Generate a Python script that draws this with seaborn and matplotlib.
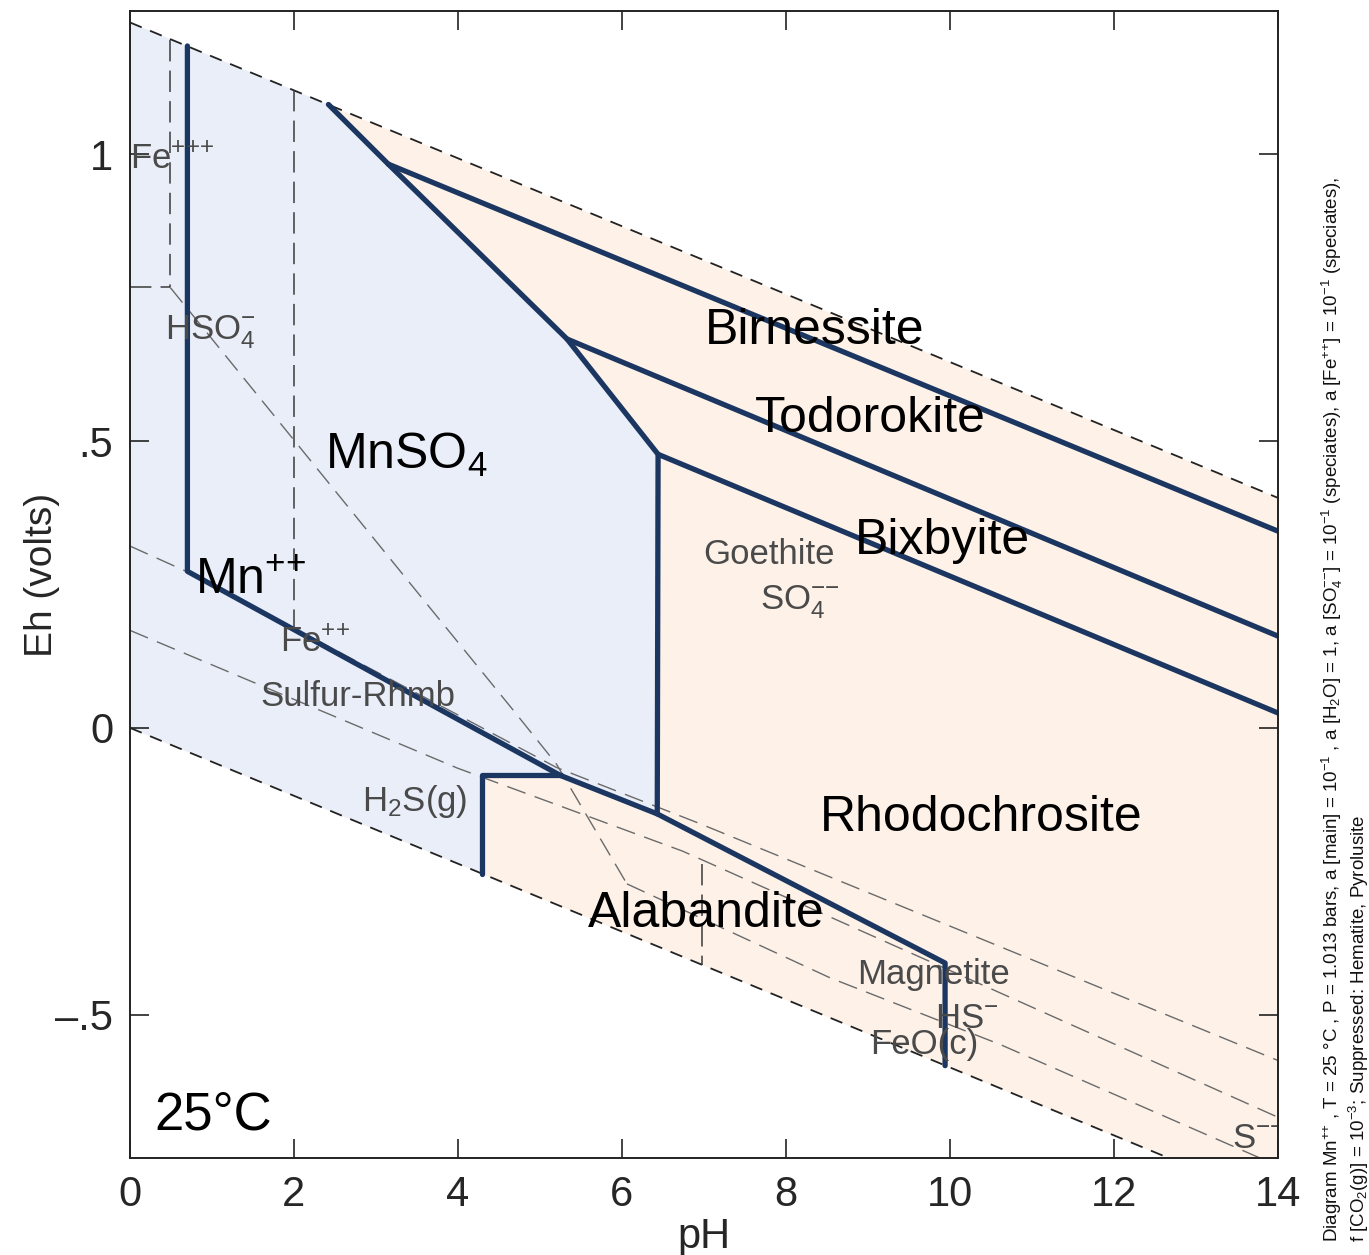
import numpy as np
import pandas as pd
import matplotlib
matplotlib.use("Agg")
import matplotlib.pyplot as plt
from matplotlib.ticker import FixedLocator, FixedFormatter
import seaborn as sns

# water stability limits
ph_water = [0, 14]
eh_water_top = [1.23, 0.401]
eh_water_bottom = [0.0, -0.829]

# Mn field boundaries (pH, Eh)
mn_left_ph = [0.70, 0.70, 5.25, 6.43, 9.94, 9.94]
mn_left_eh = [1.189, 0.273, -0.083, -0.150, -0.410, -0.589]
h2s_ph = [4.29, 4.29, 5.25]
h2s_eh = [-0.254, -0.082, -0.082]
oxide_ph = [2.42, 3.15, 5.33, 6.44, 6.43]
oxide_eh = [1.087, 0.983, 0.678, 0.477, -0.150]
birn_ph, birn_eh = [3.15, 14], [0.983, 0.343]
todo_ph, todo_eh = [5.33, 14], [0.678, 0.160]
bixb_ph, bixb_eh = [6.44, 14], [0.477, 0.026]

# MnSO4 / Mn++ field outline
blue_ph = [0, 2.42, 3.15, 5.33, 6.44, 6.43, 5.25, 4.29, 4.29, 0]
blue_eh = [1.23, 1.087, 0.983, 0.678, 0.477, -0.150, -0.083, -0.082, -0.254, 0.0]

# Fe and S background boundaries (dashed)
fe3_v_ph, fe3_v_eh = [0.49, 0.49], [1.20, 0.768]
fe3_h_ph, fe3_h_eh = [0.0, 0.49], [0.768, 0.768]
hso4_ph, hso4_eh = [2.0, 2.0], [1.112, 0.176]
fe2_ph = [0.49, 3.66, 4.65, 5.20, 6.06]
fe2_eh = [0.768, 0.209, 0.035, -0.063, -0.272]
sA_ph = [0.0, 0.70, 3.98, 5.20, 6.95, 14.0]
sA_eh = [0.317, 0.272, 0.024, -0.069, -0.167, -0.580]
sB_ph = [0.0, 3.99, 6.74, 10.61, 14.0]
sB_eh = [0.170, -0.070, -0.215, -0.462, -0.679]
sC_ph = [6.06, 8.54, 10.61, 13.78]
sC_eh = [-0.272, -0.436, -0.552, -0.750]
hs_ph, hs_eh = [6.97, 6.97], [-0.237, -0.413]

big_labels = ["Birnessite", "Todorokite", "Bixbyite", "MnSO$_4$", "Mn$^{{+}{+}}$",
              "Rhodochrosite", "Alabandite"]
big_ph = [7.01, 7.62, 8.84, 2.38, 0.79, 8.41, 5.585]
big_eh = [0.669, 0.516, 0.303, 0.451, 0.233, -0.179, -0.347]

gray_labels = ["Fe$^{{+}{+}{+}}$", "HSO$_4^{-}$", "Fe$^{{+}{+}}$", "Sulfur-Rhmb", "H$_2$S(g)",
               "Goethite", "SO$_4^{{-}{-}}$", "Magnetite", "HS$^{-}$", "FeO(c)",
               "S$^{{-}{-}}$"]
gray_ph = [0.0, 0.43, 1.83, 1.585, 2.83, 6.99, 7.68, 8.87, 9.82, 9.02, 13.44]
gray_eh = [0.974, 0.678, 0.132, 0.038, -0.145, 0.286, 0.207, -0.446, -0.524, -0.568, -0.733]

x_ticks = [0, 2, 4, 6, 8, 10, 12, 14]
y_ticks = [-0.5, 0, 0.5, 1]
y_ticklabels = ["\u2013.5", "0", ".5", "1"]

sns.set_theme(style="ticks")
plt.rcParams["font.family"] = ["Liberation Sans", "DejaVu Sans"]
plt.rcParams["mathtext.fontset"] = "custom"
plt.rcParams["mathtext.rm"] = "Liberation Sans"
plt.rcParams["mathtext.it"] = "Liberation Sans:italic"
plt.rcParams["mathtext.bf"] = "Liberation Sans:bold"
plt.rcParams["mathtext.default"] = "rm"

fig = plt.figure(figsize=(13.69, 12.55), dpi=100)
ax = fig.add_axes([130 / 1369, 1 - 1158 / 1255, 1148 / 1369, 1147 / 1255])

# field fills
ax.fill_between(ph_water, eh_water_bottom, eh_water_top, color="#fdf1e8", lw=0, zorder=0)
ax.fill(blue_ph, blue_eh, color="#e9eef9", lw=0, zorder=0.5)


def draw(ph, eh, **kw):
    sns.lineplot(x=ph, y=eh, sort=False, estimator=None, ax=ax, **kw)


# water lines
draw(ph_water, eh_water_top, color="#222222", lw=1.3, linestyle=(0, (7, 5)), zorder=2)
draw(ph_water, eh_water_bottom, color="#222222", lw=1.3, linestyle=(0, (7, 5)), zorder=2)

# Fe / S lines
fe_kw = dict(color="#3a3a3a", lw=1.1, linestyle=(0, (14, 6)), zorder=2)
gr_kw = dict(color="#6a6a6a", lw=1.0, linestyle=(0, (14, 7)), zorder=2)
draw(fe3_v_ph, fe3_v_eh, **fe_kw)
draw(fe3_h_ph, fe3_h_eh, **fe_kw)
draw(hso4_ph, hso4_eh, **fe_kw)
draw(fe2_ph, fe2_eh, **gr_kw)
draw(sA_ph, sA_eh, **gr_kw)
draw(sB_ph, sB_eh, **gr_kw)
draw(sC_ph, sC_eh, **gr_kw)
draw(hs_ph, hs_eh, **fe_kw)

# Mn boundaries
mn_kw = dict(color="#1b3660", lw=3.8, zorder=3)
draw(mn_left_ph, mn_left_eh, **mn_kw)
draw(h2s_ph, h2s_eh, **mn_kw)
draw(oxide_ph, oxide_eh, **mn_kw)
draw(birn_ph, birn_eh, **mn_kw)
draw(todo_ph, todo_eh, **mn_kw)
draw(bixb_ph, bixb_eh, **mn_kw)

for lab, x, y in zip(big_labels, big_ph, big_eh):
    ax.text(x, y, lab, fontsize=36, color="black", ha="left", va="baseline", zorder=4)
for lab, x, y in zip(gray_labels, gray_ph, gray_eh):
    ax.text(x, y, lab, fontsize=25, color="#4a4a4a", ha="left", va="baseline",
            zorder=4, clip_on=True)
ax.text(0.30, -0.70, "25°C", fontsize=38, color="black", ha="left", va="baseline", zorder=4)

ax.set_xlim(0, 14)
ax.set_ylim(-0.75, 1.25)
ax.xaxis.set_major_locator(FixedLocator(x_ticks))
ax.yaxis.set_major_locator(FixedLocator(y_ticks))
ax.yaxis.set_major_formatter(FixedFormatter(y_ticklabels))
ax.tick_params(direction="in", length=14, width=1.2, labelsize=30, color="#222222",
               top=True, right=True, pad=12)
for s in ax.spines.values():
    s.set_linewidth(1.4)
    s.set_color("#222222")
    s.set_zorder(5)

ax.set_xlabel("pH", fontsize=30, labelpad=2)
ax.set_ylabel("Eh (volts)", fontsize=28)
ax.yaxis.set_label_coords(-0.061, 0.508)

line1 = ("Diagram Mn$^{{+}{+}}$ , T = 25 °C , P = 1.013 bars, a [main] = 10$^{-1}$ , "
         "a [H$_2$O] = 1, a [SO$_4^{{-}{-}}$] = 10$^{-1}$ (speciates), "
         "a [Fe$^{{+}{+}}$] = 10$^{-1}$ (speciates),")
line2 = "f [CO$_2$(g)] = 10$^{-3}$; Suppressed: Hematite, Pyrolusite"
fig.text(1332 / 1369, 1 - 1242 / 1255, line1, rotation=90, rotation_mode="anchor",
         ha="left", va="center", fontsize=13.5, color="#111111")
fig.text(1359 / 1369, 1 - 1242 / 1255, line2, rotation=90, rotation_mode="anchor",
         ha="left", va="center", fontsize=13.5, color="#111111")

fig.savefig("out.png", dpi=100)
